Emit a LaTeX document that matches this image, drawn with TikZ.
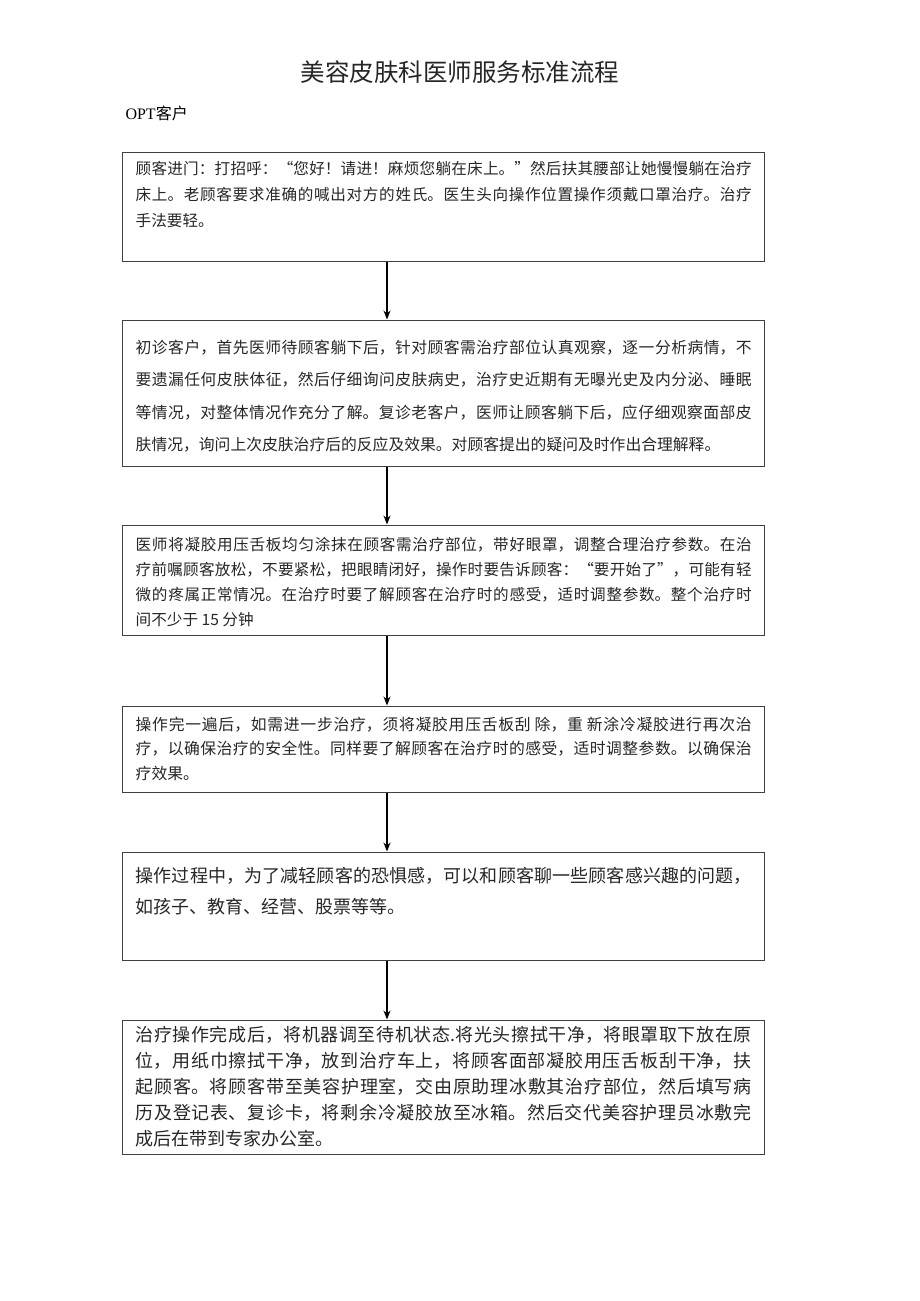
\documentclass[tikz,border=0pt]{standalone}
\usepackage{fontspec}
\setmainfont{Liberation Serif}
\newfontfamily\cjk{Noto Sans CJK SC}
\usetikzlibrary{calc, positioning, arrows.meta}

% texto corrido com quebra justificada entre caracteres
\newcommand{\passo}[2]{\cjk\fontsize{#1}{#2}\selectfont
    \XeTeXlinebreaklocale "zh"\XeTeXlinebreakskip=0pt plus 3pt minus 0.6pt
    \tolerance=10000\emergencystretch=0pt}

\begin{document}
\begin{tikzpicture}[
    x=1pt, y=-1pt,
    box/.style={draw=black!75, line width=1pt, minimum width=642pt, inner sep=0pt},
    txt/.style={anchor=north west, inner sep=0pt, text width=616pt, align=justify, text=black!85},
    flow/.style={-{Stealth[length=9pt, width=7pt]}, line width=1.1pt}
]

    \useasboundingbox (0,0) rectangle (920,1301);

    % 1. Título e subtítulo
    \node[font=\cjk\fontsize{24.5pt}{26pt}\selectfont, text=black!85] (title) at (460,72) {美容皮肤科医师服务标准流程};
    \node[anchor=west, font=\fontsize{16pt}{18pt}\selectfont] (opt) at (122,113) {OPT{\cjk 客户}};

    % 2. Caixas das etapas
    \node[box, minimum height=109pt] (b1) at (443,206.5) {};
    \node[box, minimum height=146pt] (b2) at (443,393) {};
    \node[box, minimum height=110pt] (b3) at (443,580) {};
    \node[box, minimum height=86pt]  (b4) at (443,749) {};
    \node[box, minimum height=108pt] (b5) at (443,906) {};
    \node[box, minimum height=134pt] (b6) at (443,1087) {};

    % 3. Textos das etapas
    \node[txt, font=\passo{15.6pt}{26pt}] (t1) at ($(b1.north west)+(14,10)$) {%
        顾客进门：打招呼：“您好！请进！麻烦您躺在床上。”然后扶其腰部让她慢慢躺在治疗\linebreak
        床上。老顾客要求准确的喊出对方的姓氏。医生头向操作位置操作须戴口罩治疗。治疗\linebreak
        手法要轻。};
    \node[txt, font=\passo{15.8pt}{32.5pt}] (t2) at ($(b2.north west)+(14,20)$) {%
        初诊客户，首先医师待顾客躺下后，针对顾客需治疗部位认真观察，逐一分析病情，不\linebreak
        要遗漏任何皮肤体征，然后仔细询问皮肤病史，治疗史近期有无曝光史及内分泌、睡眠\linebreak
        等情况，对整体情况作充分了解。复诊老客户，医师让顾客躺下后，应仔细观察面部皮\linebreak
        肤情况，询问上次皮肤治疗后的反应及效果。对顾客提出的疑问及时作出合理解释。};
    \node[txt, font=\passo{15.6pt}{25pt}] (t3) at ($(b3.north west)+(14,13)$) {%
        医师将凝胶用压舌板均匀涂抹在顾客需治疗部位，带好眼罩，调整合理治疗参数。在治\linebreak
        疗前嘱顾客放松，不要紧松，把眼睛闭好，操作时要告诉顾客：“要开始了”，可能有轻\linebreak
        微的疼属正常情况。在治疗时要了解顾客在治疗时的感受，适时调整参数。整个治疗时\linebreak
        间不少于 15 分钟};
    \node[txt, font=\passo{15.8pt}{24.5pt}] (t4) at ($(b4.north west)+(14,11)$) {%
        操作完一遍后，如需进一步治疗，须将凝胶用压舌板刮 除，重 新涂冷凝胶进行再次治\linebreak
        疗，以确保治疗的安全性。同样要了解顾客在治疗时的感受，适时调整参数。以确保治\linebreak
        疗效果。};
    \node[txt, font=\passo{18pt}{31pt}] (t5) at ($(b5.north west)+(14,16)$) {%
        操作过程中，为了减轻顾客的恐惧感，可以和顾客聊一些顾客感兴趣的问题，\linebreak
        如孩子、教育、经营、股票等等。};
    \node[txt, font=\passo{18pt}{26pt}] (t6) at ($(b6.north west)+(14,7)$) {%
        治疗操作完成后，将机器调至待机状态.将光头擦拭干净，将眼罩取下放在原\linebreak
        位，用纸巾擦拭干净，放到治疗车上，将顾客面部凝胶用压舌板刮干净，扶\linebreak
        起顾客。将顾客带至美容护理室，交由原助理冰敷其治疗部位，然后填写病\linebreak
        历及登记表、复诊卡，将剩余冷凝胶放至冰箱。然后交代美容护理员冰敷完\linebreak
        成后在带到专家办公室。};

    % 4. Setas entre as etapas
    \coordinate (axis) at (387,0);
    \draw[flow] (axis |- b1.south) -- (axis |- b2.north);
    \draw[flow] (axis |- b2.south) -- (axis |- b3.north);
    \draw[flow] (axis |- b3.south) -- (axis |- b4.north);
    \draw[flow] (axis |- b4.south) -- (axis |- b5.north);
    \draw[flow] (axis |- b5.south) -- (axis |- b6.north);

\end{tikzpicture}
\end{document}
